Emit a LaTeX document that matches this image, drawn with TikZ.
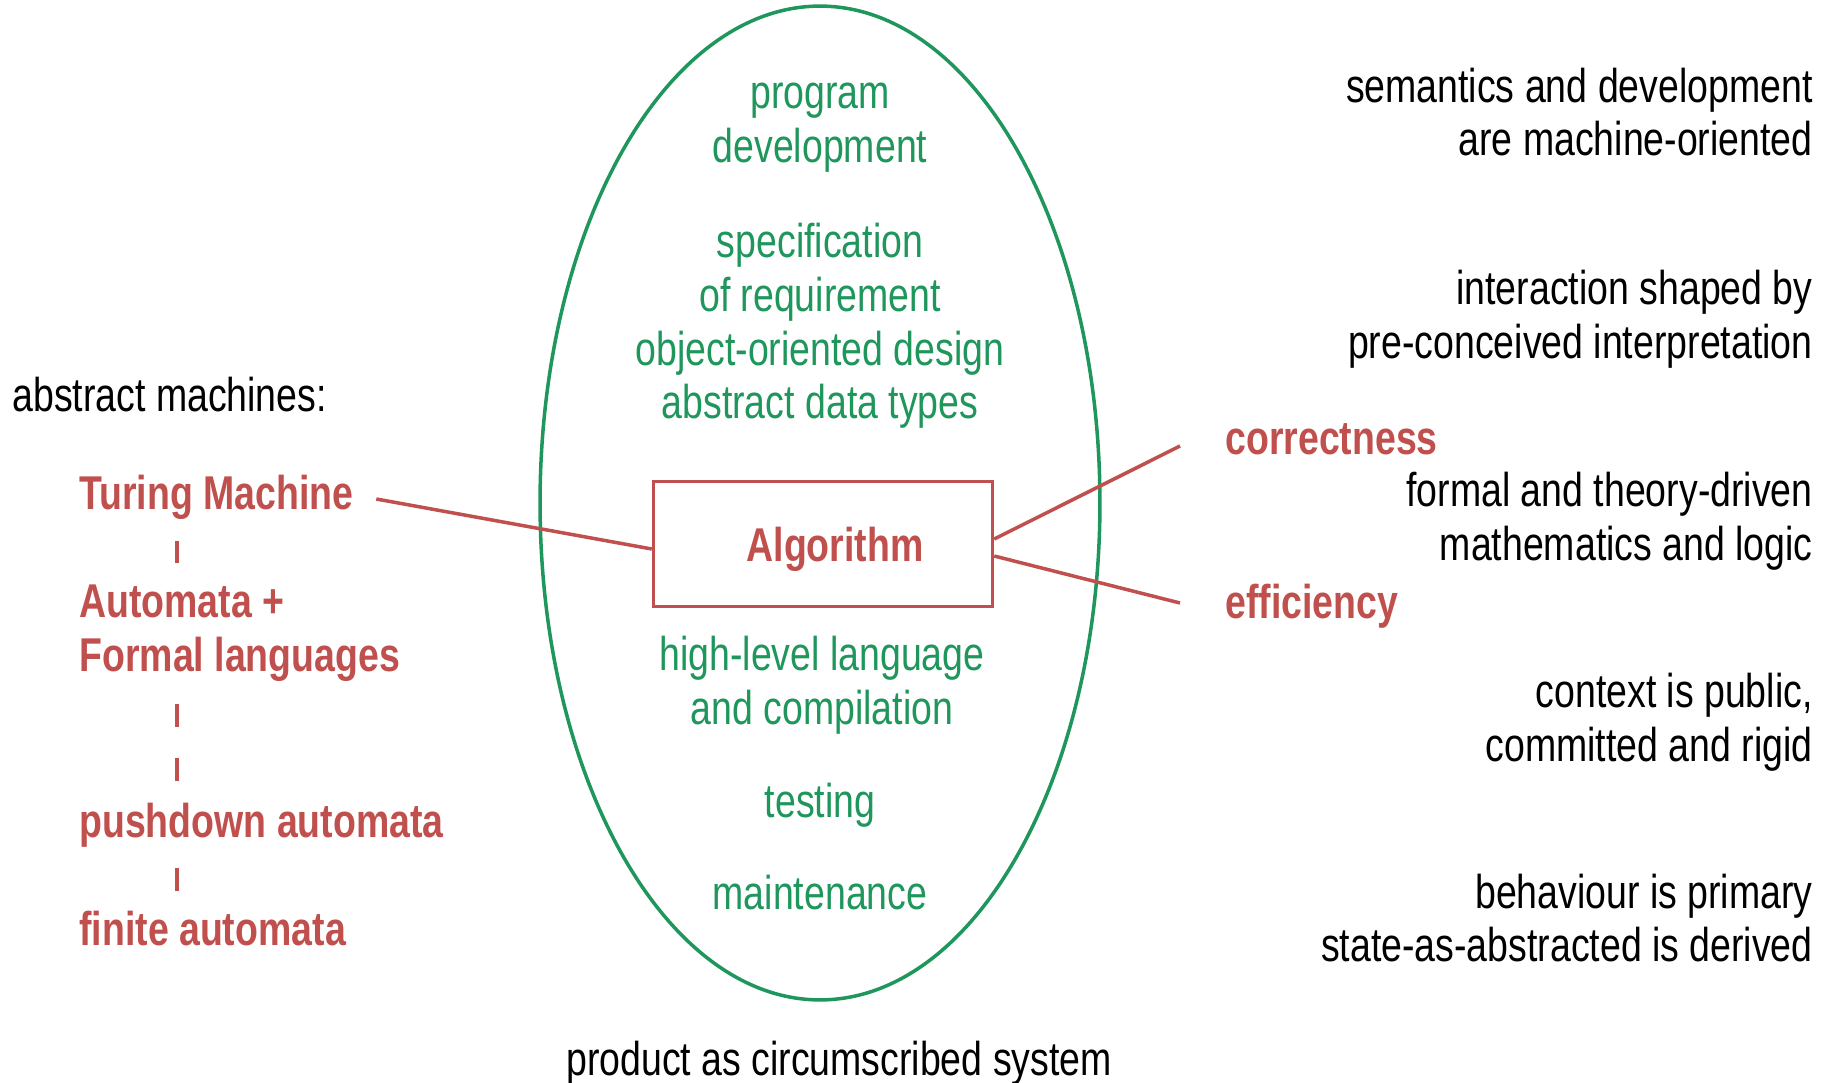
\documentclass[tikz,border=0pt]{standalone}
\usepackage{fontspec}
\setmainfont[FakeStretch=0.79]{Liberation Sans}
\usepackage{tikz}
\usetikzlibrary{shapes,positioning,calc}
\definecolor{algored}{RGB}{192,80,77}
\definecolor{devgreen}{RGB}{30,150,92}
\newcommand{\diagfont}{\fontsize{27}{30.6}\selectfont}
\tikzstyle{sysellipse} = [ellipse, draw=devgreen, line width=2pt, minimum width=11.2cm, minimum height=19.88cm, inner sep=0pt]
\tikzstyle{greentext} = [text=devgreen, align=center, font=\diagfont, inner sep=0pt]
\tikzstyle{plaintext} = [text=black, align=right, font=\diagfont, inner sep=0pt]
\tikzstyle{redtext} = [text=algored, align=left, font=\diagfont\bfseries, inner sep=0pt]
\tikzstyle{algobox} = [rectangle, draw=algored, line width=2pt, minimum width=6.78cm, minimum height=2.5cm, text height=20pt, text depth=0.4pt, text=algored, font=\diagfont\bfseries]
\tikzstyle{link} = [line width=2pt, color=algored]
\tikzstyle{chain} = [line width=2.6pt, color=algored, dash pattern=on 0.46cm off 0.62cm]

\begin{document}
\begin{tikzpicture}[x=0.02cm, y=-0.02cm]
\useasboundingbox (0,0) rectangle (1829,1082);

% Product system
\node[sysellipse] (sys) at (820,503) {};
\node[plaintext, align=center] (product) at (839,1063) {product as circumscribed system};

% Development activities
\node[greentext] (prog) at (820,128) {program\\development};
\node[greentext] (spec) at (820,326) {specification\\of requirement\\object-oriented design\\abstract data types};
\node[algobox] (algo) at (823,544) {\hspace*{0.48cm}Algorithm};
\node[greentext] (hll) at (822,685) {high-level language\\and compilation};
\node[greentext] (test) at (820,805) {testing};
\node[greentext] (maint) at (820,893) {maintenance};

% Abstract machines
\node[plaintext, anchor=west, align=left] (machines) at (12,395) {abstract machines:};
\node[redtext, anchor=west] (turing) at (79,497) {Turing Machine};
\node[redtext, anchor=west] (automata) at (79,633) {Automata +\\Formal languages};
\node[redtext, anchor=west] (pushdown) at (79,825) {pushdown automata};
\node[redtext, anchor=west] (finite) at (79,929) {finite automata};
\coordinate (colx) at (177,0);

% Qualities
\node[redtext, anchor=west] (corr) at (1225,439) {correctness};
\node[redtext, anchor=west] (eff) at (1225,606) {efficiency};

% Characteristics
\node[plaintext, anchor=east] (semantics) at (1813,112) {semantics and development\\are machine-oriented};
\node[plaintext, anchor=east] (interaction) at (1813,319) {interaction shaped by\\pre-conceived interpretation};
\node[plaintext, anchor=east] (formal) at (1813,521) {formal and theory-driven\\mathematics and logic};
\node[plaintext, anchor=east] (context) at (1813,722) {context is public,\\committed and rigid};
\node[plaintext, anchor=east] (behaviour) at (1813,918) {behaviour is primary\\state-as-abstracted is derived};

% Connectors
\draw[link] ([xshift=0.45cm, yshift=-0.04cm]turing.east) -- ([yshift=-0.1cm]algo.west);
\draw[link] ([yshift=0.1cm]algo.east) -- ([xshift=-0.9cm, yshift=-0.14cm]corr.west);
\draw[link] ([yshift=-0.24cm]algo.east) -- ([xshift=-0.9cm, yshift=0.06cm]eff.west);

% Machine hierarchy
\draw[chain] ($(turing.south -| colx)!0.5!(automata.north -| colx)$) ++(0,-11.5) -- ++(0,23);
\draw[chain] ($(automata.south -| colx)!0.5!(pushdown.north -| colx)$) ++(0,-38.5) -- ++(0,77);
\draw[chain] ($(pushdown.south -| colx)!0.5!(finite.north -| colx)$) ++(0,-11.5) -- ++(0,23);

\end{tikzpicture}
\end{document}
